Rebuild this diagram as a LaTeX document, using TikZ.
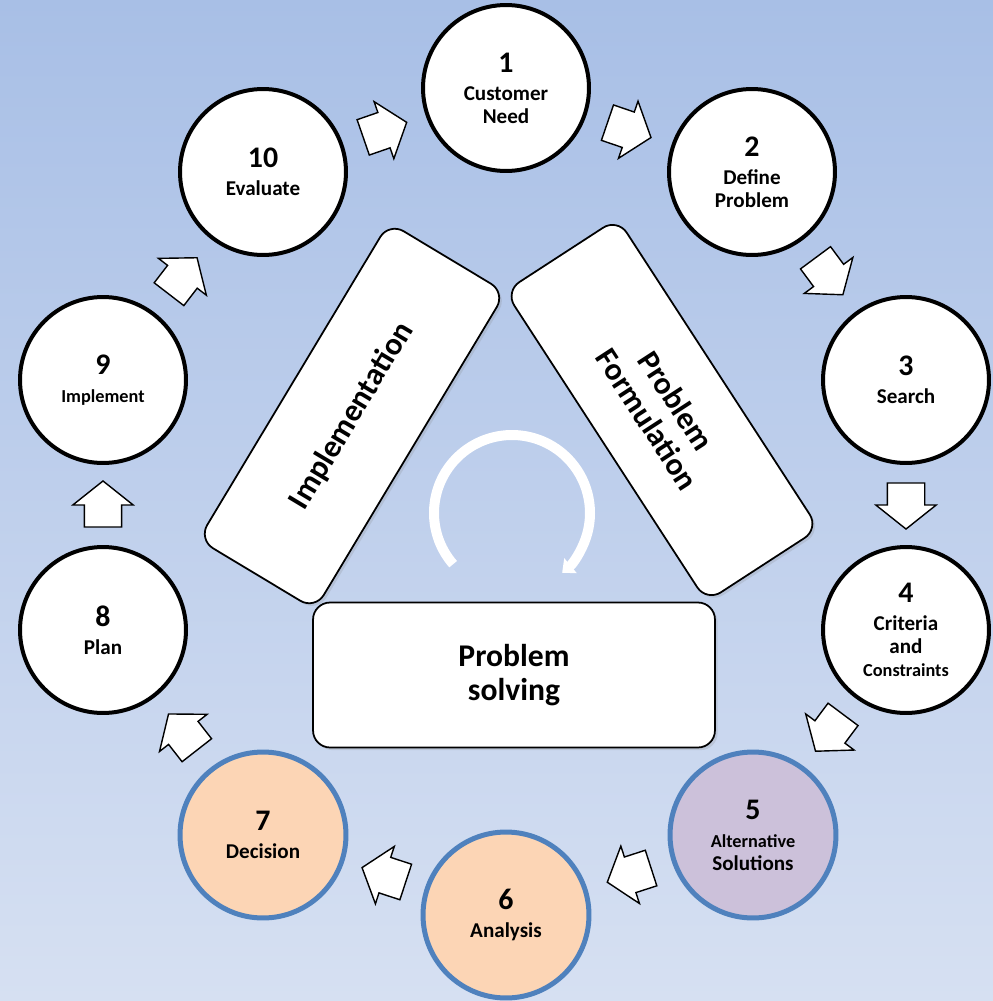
\documentclass[tikz,border=0pt]{standalone}
\usepackage{fontspec}
\setmainfont{Carlito}
\usetikzlibrary{shapes.arrows,arrows.meta,shadows}
\definecolor{bgtop}{RGB}{168,191,230}
\definecolor{bgbot}{RGB}{214,224,242}
\definecolor{ringblue}{RGB}{79,129,189}
\definecolor{lilac}{RGB}{204,193,218}
\definecolor{peach}{RGB}{252,213,181}
\newcommand{\stepno}[1]{{\fontsize{17}{17}\selectfont #1}\\[3pt]}
\newcommand{\smalltxt}{\fontsize{10.4}{12}\selectfont}

\begin{document}
\begin{tikzpicture}[x=0.02cm, y=0.02cm,
    stepcirc/.style={circle, draw=black, line width=0.08cm, fill=white, minimum size=3.32cm,
        inner sep=0pt, align=center, font=\fontsize{12}{13}\selectfont\bfseries},
    hot/.style={draw=ringblue, line width=0.1cm},
    blockarr/.style={single arrow, draw=black, fill=white, line width=0.8pt, minimum height=0.92cm,
        inner xsep=0pt, inner ysep=0.36cm, single arrow head extend=0.23cm, single arrow tip angle=103,
        sloped, allow upside down, pos=0.42},
    phase/.style={rectangle, rounded corners=0.34cm, draw=black, line width=1pt, fill=white,
        align=center, font=\fontsize{18}{19.5}\selectfont\bfseries,
        drop shadow={shadow xshift=1.5pt, shadow yshift=-1.5pt, opacity=0.2}}
]
% background
\fill[top color=bgtop, bottom color=bgbot] (0,0) rectangle (993,-1001);
\useasboundingbox (0,0) rectangle (993,-1001);

% the ten steps
\node[stepcirc] (c1) at (506,-88) {\stepno{1}Customer\\Need};
\node[stepcirc] (c2) at (752,-172) {\stepno{2}Define\\Problem};
\node[stepcirc] (c3) at (906,-380) {\stepno{3}Search};
\node[stepcirc] (c4) at (906,-630) {\stepno{4}Criteria\\and\\{\smalltxt Constraints}};
\node[stepcirc, hot, fill=lilac] (c5) at (753,-835) {\stepno{5}{\smalltxt Alternative}\\Solutions};
\node[stepcirc, hot, fill=peach] (c6) at (506,-915) {\stepno{6}Analysis};
\node[stepcirc, hot, fill=peach] (c7) at (263,-835) {\stepno{7}Decision};
\node[stepcirc] (c8) at (103,-630) {\stepno{8}Plan};
\node[stepcirc] (c9) at (103,-380) {\stepno{9}{\smalltxt Implement}};
\node[stepcirc] (c10) at (263,-172) {\stepno{10}Evaluate};

% block arrows between steps
\foreach \a/\b in {c1/c2, c2/c3, c3/c4, c4/c5, c5/c6, c6/c7, c7/c8, c8/c9, c9/c10, c10/c1} {
    \path (\a) -- node[blockarr] (to\b) {} (\b);
}

% central triangle
\node[phase, minimum width=8.04cm, minimum height=2.9cm] (solve) at (514,-675) {Problem\\solving};
\node[phase, minimum width=7.4cm, minimum height=2.72cm, rotate=59] (impl) at (352,-416) {Implementation};
\node[phase, minimum width=7.4cm, minimum height=2.68cm, rotate=-57] (form) at (662,-410) {Problem\\Formulation};

\coordinate (hub) at (512,-513);
\draw[white, line width=0.2cm, -{Triangle[length=0.22cm, width=0.38cm]}]
    (hub) ++(221:78) arc[start angle=221, end angle=-50, radius=78];
\end{tikzpicture}
\end{document}
